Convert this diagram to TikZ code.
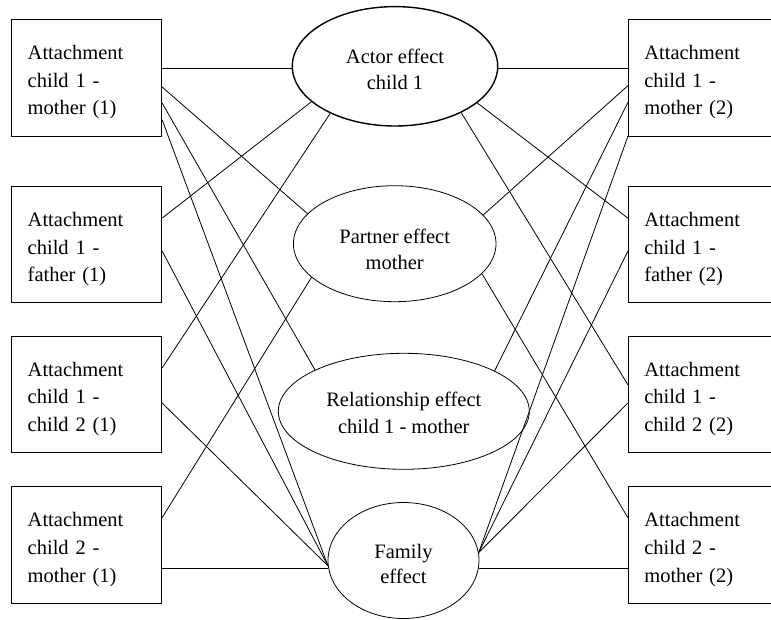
\documentclass[tikz,border=0pt]{standalone}
\usepackage{fontspec}
\setmainfont{Liberation Serif}
\usetikzlibrary{shapes.geometric}

\tikzset{
  attbox/.style={draw, rectangle, minimum width=150pt, minimum height=116.5pt, inner sep=0pt},
  boxtext/.style={text width=118pt, align=left, inner sep=0pt,
    font=\fontsize{20.5}{27.8}\selectfont, yshift=-4.6pt},
  effect/.style={draw, ellipse, inner sep=0pt},
  efftext/.style={align=center, inner sep=0pt, font=\fontsize{20.5}{26.5}\selectfont}
}

\begin{document}
\begin{tikzpicture}[x=1pt, y=-1pt, line width=0.8pt]
		\clip (0,0) rectangle (771,619);

		% Attachment boxes, time 1 (left)
		\node[attbox, label={[boxtext]center:Attachment\\child 1 -\\mother (1)}] (L1) at (86.7,77.65) {};
		\node[attbox, label={[boxtext]center:Attachment\\child 1 -\\father (1)}] (L2) at (86.7,244.5) {};
		\node[attbox, label={[boxtext]center:Attachment\\child 1 -\\child 2 (1)}] (L3) at (86.7,394.35) {};
		\node[attbox, label={[boxtext]center:Attachment\\child 2 -\\mother (1)}] (L4) at (86.7,544.7) {};

		% Attachment boxes, time 2 (right)
		\node[attbox, label={[boxtext]center:Attachment\\child 1 -\\mother (2)}] (R1) at (703.3,77.65) {};
		\node[attbox, label={[boxtext]center:Attachment\\child 1 -\\father (2)}] (R2) at (703.3,244.5) {};
		\node[attbox, label={[boxtext]center:Attachment\\child 1 -\\child 2 (2)}] (R3) at (703.3,394.35) {};
		\node[attbox, label={[boxtext]center:Attachment\\child 2 -\\mother (2)}] (R4) at (703.3,544.7) {};

		% Effects in the middle
		\node[effect, line width=1.4pt, minimum width=205.4pt, minimum height=119.4pt,
			label={[efftext, yshift=-3.25pt]center:Actor effect\\child 1}] (actor) at (395,66.3) {};
		\node[effect, minimum width=202.6pt, minimum height=116pt,
			label={[efftext, yshift=-5.85pt]center:Partner effect\\mother}] (partner) at (394.7,243.7) {};
		\node[effect, minimum width=251pt, minimum height=116pt,
			label={[efftext, yshift=-1.35pt]center:Relationship effect\\child 1 - mother}] (rel) at (403.8,411.3) {};
		\node[effect, minimum width=151pt, minimum height=116pt,
			label={[efftext, font=\fontsize{20.5}{25}\selectfont, yshift=-3.3pt]center:Family\\effect}] (fam) at (403.5,560.5) {};

		% Left links
		\draw (actor.181.7) -- (actor.181.7 -| L1.east);
		\draw ([yshift=-68pt]L1.north east) -- (partner.161.9);
		\draw ([yshift=-84pt]L1.north east) -- (rel.155.9);
		\draw ([yshift=-100.7pt]L1.north east) -- (fam.184.7);
		\draw ([yshift=-32.3pt]L2.north east) -- (actor.203.8);
		\draw ([yshift=-65pt]L2.north east) -- (fam.184.7);
		\draw ([yshift=-32.3pt]L3.north east) -- (actor.216.6);
		\draw ([yshift=-67.3pt]L3.north east) -- (fam.184.7);
		\draw ([yshift=-31.6pt]L4.north east) -- (partner.202.4);
		\draw (fam.186.7) -- (fam.186.7 -| L4.east);

		% Right links
		\draw (actor.-1.7) -- (actor.-1.7 -| R1.west);
		\draw (partner.18) -- ([yshift=-66.7pt]R1.north west);
		\draw (rel.24.4) -- ([yshift=-83.4pt]R1.north west);
		\draw (fam.6.3) -- (R1.south west);
		\draw (actor.-24) -- ([yshift=-32.3pt]R2.north west);
		\draw (fam.6.3) -- ([yshift=-65.3pt]R2.north west);
		\draw (actor.-35.9) -- ([yshift=-49pt]R3.north west);
		\draw (fam.6.3) -- ([yshift=-67.3pt]R3.north west);
		\draw (partner.-19.5) -- ([yshift=-31.6pt]R4.north west);
		\draw (fam.-6.7) -- (fam.-6.7 -| R4.west);
	\end{tikzpicture}
\end{document}
